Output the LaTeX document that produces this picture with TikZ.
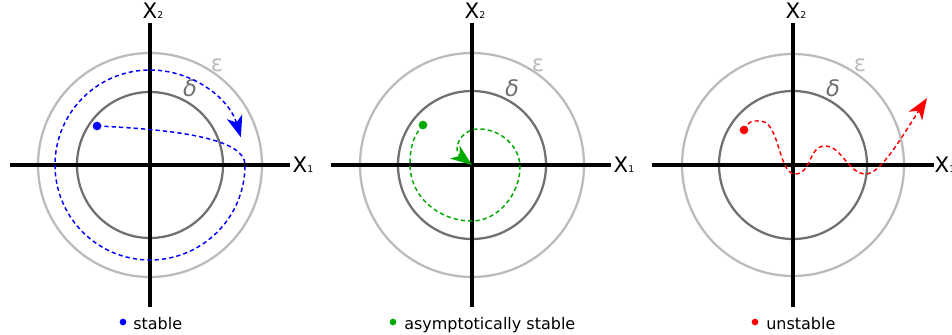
\documentclass[tikz,border=0pt]{standalone}
\usepackage{fontspec}
\setmainfont{DejaVu Sans}
\definecolor{stabblue}{RGB}{0,0,255}
\definecolor{asygreen}{RGB}{0,170,0}
\definecolor{unsred}{RGB}{255,0,0}
\definecolor{epsgray}{RGB}{187,187,187}
\definecolor{delgray}{RGB}{112,112,112}
\usetikzlibrary{arrows.meta}
\newcommand{\axsub}[1]{\rlap{\fontsize{7}{7}\selectfont #1}}

\begin{document}
\begin{tikzpicture}[x=0.75pt,y=-0.75pt,
  axis/.style={line width=2.6pt,black},
  epsring/.style={line width=1.7pt,epsgray},
  delring/.style={line width=1.7pt,delgray},
  traj/.style={line width=1.1pt,dash pattern=on 3.2pt off 2.3pt},
  arr/.style={-{Stealth[length=16pt,width=12pt,inset=4.5pt]}},
  dot/.style={circle,inner sep=0pt,minimum size=6.5pt},
  axlbl/.style={font=\fontsize{16}{16}\selectfont,inner sep=0pt},
  greek/.style={font=\fontsize{17}{17}\selectfont,inner sep=0pt},
  legtext/.style={font=\fontsize{12}{12}\selectfont,anchor=base west,inner sep=0pt}
]
  \path[use as bounding box] (0,0) rectangle (952,335);
  \clip (0,0) rectangle (952,335);

  % stable
  \coordinate (o1) at (150,165);
  \draw[epsring] (o1) circle[radius=112];
  \draw[delring] (o1) circle[radius=73];
  \draw[axis] (10,165) -- (290,165);
  \draw[axis] (150,23) -- (150,307);
  \node[axlbl] (xa1) at (300,165) {X\axsub{1}};
  \node[axlbl] (xb1) at (150,11) {X\axsub{2}};
  \node[greek,epsgray] (eps1) at (217,65) {ε};
  \node[greek,delgray] (del1) at (190,88) {\itshape δ};
  \node[dot,fill=stabblue] (s1) at (97,126) {};
  \draw[traj,stabblue,arr] (s1.center) .. controls (185,130) and (245,140) .. (245,165)
    arc[start angle=0,end angle=343,radius=95];
  \node[dot,minimum size=5pt,fill=stabblue] (k1) at (123,322) {};
  \node[legtext] (t1) at (133,329) {stable};

  % asymptotically stable
  \coordinate (o2) at (472,165);
  \draw[epsring] (o2) circle[radius=112];
  \draw[delring] (o2) circle[radius=74];
  \draw[axis] (331,165) -- (611,165);
  \draw[axis] (472,23) -- (472,307);
  \node[axlbl] (xa2) at (621,165) {X\axsub{1}};
  \node[axlbl] (xb2) at (472,11) {X\axsub{2}};
  \node[greek,epsgray] (eps2) at (538,65) {ε};
  \node[greek,delgray] (del2) at (512,88) {\itshape δ};
  \node[dot,fill=asygreen] (s2) at (423,125) {};
  \draw[traj,asygreen,arr] (s2.center) .. controls (412,137) and (410,150) .. (410,165)
    .. controls (410,196) and (438,221) .. (472,221)
    .. controls (498,221) and (520,194) .. (520,167)
    .. controls (520,146) and (500,129) .. (479,129)
    .. controls (460,129) and (452,150) .. (o2);
  \node[dot,minimum size=5pt,fill=asygreen] (k2) at (393,322) {};
  \node[legtext] (t2) at (404,329) {asymptotically stable};

  % unstable
  \coordinate (o3) at (793,165);
  \coordinate (esc) at (927,98);
  \draw[epsring] (o3) circle[radius=111];
  \draw[delring] (o3) circle[radius=74];
  \draw[axis] (652,165) -- (934,165);
  \draw[axis] (793,23) -- (793,307);
  \node[axlbl] (xa3) at (942,165) {X\axsub{1}};
  \node[axlbl] (xb3) at (793,11) {X\axsub{2}};
  \node[greek,epsgray] (eps3) at (860,65) {ε};
  \node[greek,delgray] (del3) at (833,88) {\itshape δ};
  \node[dot,fill=unsred] (s3) at (744,130) {};
  \draw[traj,unsred,arr] (s3.center) .. controls (749,120) and (752,121) .. (760,121)
    .. controls (780,121) and (778,174) .. (795,174)
    .. controls (812,174) and (808,146) .. (825,146)
    .. controls (842,146) and (848,174) .. (866,174)
    .. controls (880,174) and (900,140) .. (esc);
  \node[dot,minimum size=5pt,fill=unsred] (k3) at (755,322) {};
  \node[legtext] (t3) at (766,329) {unstable};
\end{tikzpicture}
\end{document}
